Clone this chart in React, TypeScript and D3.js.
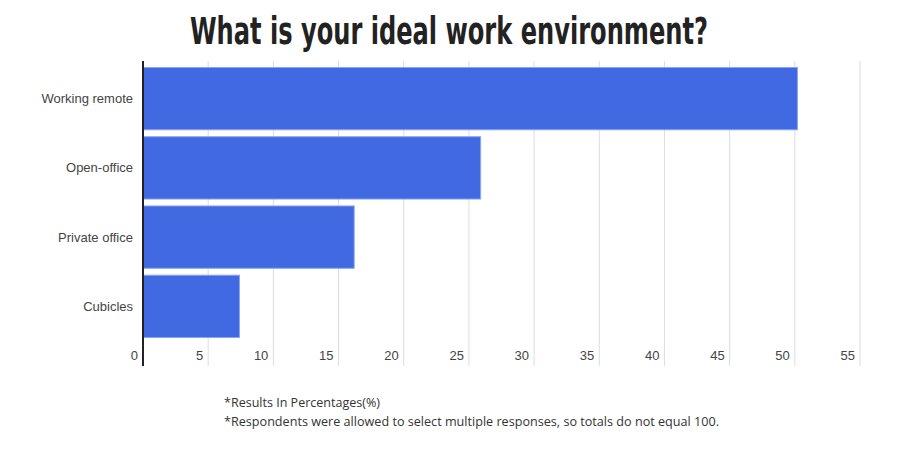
import React from "react";
import * as d3 from "d3";

const categories = ["Working remote", "Open-office", "Private office", "Cubicles"];
const values = [50.2, 25.9, 16.2, 7.4];
const xTicks = [0, 5, 10, 15, 20, 25, 30, 35, 40, 45, 50, 55];
const titleText = "What is your ideal work environment?";
const notes = [
  "*Results In Percentages(%)",
  "*Respondents were allowed to select multiple responses, so totals do not equal 100.",
];

export default function App() {
  const W = 913, H = 460;
  const x = d3.scaleLinear().domain([0, 55]).range([143, 860]);
  const y = d3.scaleBand<string>().domain(categories).range([64, 341]).paddingInner(0.1).paddingOuter(0.05);
  const plotTop = 61, plotBottom = 366;
  return (
    <svg width={W} height={H} style={{ position: "absolute", left: 0, top: 0, background: "#fff" }}>
      <text x={449} y={44} textAnchor="middle" fontFamily="'Liberation Sans Narrow', 'DejaVu Sans Condensed', sans-serif" fontWeight="bold" fontSize={37} fill="#222" textLength={518} lengthAdjust="spacingAndGlyphs">{titleText}</text>
      {xTicks.filter(t => t > 0).map(t => (
        <line key={"g" + t} x1={x(t)} x2={x(t)} y1={plotTop} y2={plotBottom} stroke="#dddddd" strokeWidth={1} />
      ))}
      {categories.map((c, i) => (
        <rect key={c} x={x(0)} y={y(c)} width={x(values[i]) - x(0)} height={y.bandwidth()} fill="#4169E1" stroke="#8aa6f0" strokeWidth={1} />
      ))}
      <line x1={x(0)} x2={x(0)} y1={plotTop} y2={plotBottom} stroke="#222" strokeWidth={2} />
      {categories.map(c => (
        <text key={"l" + c} x={133} y={(y(c) ?? 0) + y.bandwidth() / 2} dy="0.35em" textAnchor="end" fontFamily="'Liberation Sans', Arial, sans-serif" fontSize={13} fill="#444">{c}</text>
      ))}
      {xTicks.map(t => (
        <text key={"t" + t} x={x(t) - 5} y={360} textAnchor="end" fontFamily="'Liberation Sans', Arial, sans-serif" fontSize={13} fill="#444">{t}</text>
      ))}
      {notes.map((n, i) => (
        <text key={"n" + i} x={224} y={407 + i * 19} fontFamily="'Open Sans', 'Noto Sans', sans-serif" fontSize={12} fill="#333" textLength={i === 0 ? 156 : 495} lengthAdjust="spacingAndGlyphs">{n}</text>
      ))}
    </svg>
  );
}
